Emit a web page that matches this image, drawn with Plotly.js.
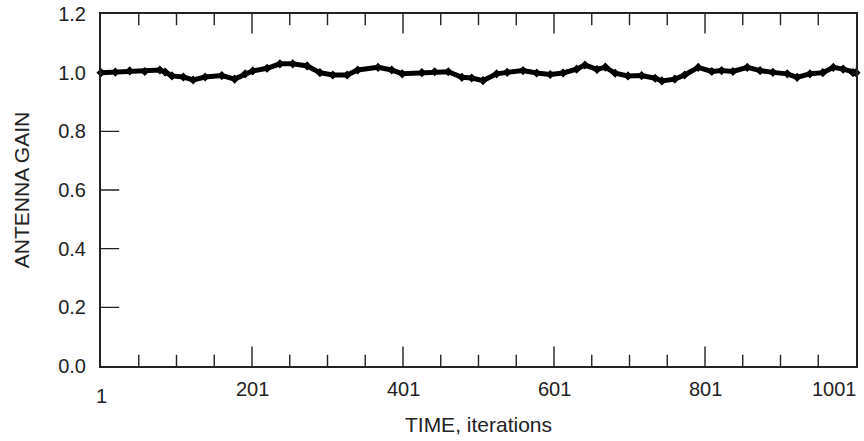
<!DOCTYPE html>
<html>
<head>
<meta charset="utf-8">
<script src="https://cdn.plot.ly/plotly-3.0.1.min.js"></script>
<style>
html,body{margin:0;padding:0;background:#fff;}
#chart{width:864px;height:441px;}
</style>
</head>
<body>
<div id="chart"></div>
<script>
// Data
const iterations = [1, 20, 39, 59, 79, 86, 95, 110, 123, 139, 161, 178, 192, 202, 221, 238, 255, 274, 291, 308, 327, 341, 368, 386, 400, 426, 443, 461, 479, 492, 507, 525, 539, 560, 578, 596, 613, 631, 642, 658, 669, 682, 699, 717, 735, 744, 761, 774, 792, 810, 823, 838, 857, 874, 891, 910, 923, 940, 957, 971, 984, 997, 1001];
const antennaGain = [1.000, 1.002, 1.006, 1.004, 1.009, 1.002, 0.989, 0.985, 0.975, 0.985, 0.990, 0.978, 0.996, 1.006, 1.015, 1.030, 1.030, 1.023, 1.000, 0.992, 0.992, 1.009, 1.018, 1.009, 0.996, 1.000, 1.003, 1.003, 0.984, 0.982, 0.973, 0.996, 1.001, 1.007, 0.999, 0.994, 0.999, 1.012, 1.026, 1.011, 1.019, 0.998, 0.989, 0.990, 0.981, 0.972, 0.978, 0.992, 1.018, 1.004, 1.007, 1.004, 1.018, 1.007, 1.001, 0.996, 0.984, 0.996, 1.000, 1.018, 1.012, 1.000, 1.000];
const xTickVals = [1, 201, 401, 601, 801, 1001];
const xTickText = ['1', '201', '401', '601', '801', '1001'];
const xMinorTickVals = [51, 101, 151, 251, 301, 351, 451, 501, 551, 651, 701, 751, 851, 901, 951];
const yTickVals = [0, 0.2, 0.4, 0.6, 0.8, 1.0, 1.2];

const FONT = 'Liberation Sans, Arial, Helvetica, sans-serif';
const INK = '#222';
const X0 = xTickVals[0], X1 = xTickVals[xTickVals.length - 1];
const Y0 = yTickVals[0], Y1 = yTickVals[yTickVals.length - 1];

// Inward tick marks: line symbols centred on the axis lines, the outer half clipped by the plot area
function tickTrace(xs, ys, symbol, size) {
  return {
    x: xs, y: ys, type: 'scatter', mode: 'markers', cliponaxis: true,
    marker: {symbol: symbol, size: size, color: INK, line: {color: INK, width: 1.4}},
    hoverinfo: 'skip', showlegend: false
  };
}
const xMajorInner = xTickVals.slice(1, -1);
const yInner = yTickVals.slice(1, -1);
const ticks = [
  tickTrace(xMinorTickVals, xMinorTickVals.map(() => Y0), 'line-ns', 16),
  tickTrace(xMinorTickVals, xMinorTickVals.map(() => Y1), 'line-ns', 16),
  tickTrace(xMajorInner, xMajorInner.map(() => Y0), 'line-ns', 28),
  tickTrace(xMajorInner, xMajorInner.map(() => Y1), 'line-ns', 28),
  tickTrace(yInner.map(() => X0), yInner, 'line-ew', 26)
];

const gainTrace = {
  x: iterations, y: antennaGain, type: 'scatter', mode: 'lines+markers',
  line: {color: '#000', width: 5},
  marker: {color: '#000', size: 7, symbol: 'diamond'},
  cliponaxis: false, hoverinfo: 'skip', showlegend: false
};

// X tick labels: "1" sits lower, "1001" is pulled in at the right end
const annotations = xTickVals.map((v, i) => {
  const first = i === 0, last = i === xTickVals.length - 1;
  return {
    x: v, xref: 'x', y: 0, yref: 'paper',
    text: xTickText[i], showarrow: false,
    xanchor: last ? 'right' : 'center', yanchor: 'middle',
    xshift: last ? 3 : 0,
    yshift: first ? -30 : -23,
    font: {family: FONT, size: 20, color: INK}
  };
});

const layout = {
  width: 864, height: 441,
  margin: {l: 101, r: 8, t: 14, b: 75},
  paper_bgcolor: '#fff', plot_bgcolor: '#fff',
  font: {family: FONT, size: 20, color: INK},
  xaxis: {
    range: [X0, X1], tickvals: xTickVals, showticklabels: false, ticks: '',
    showline: true, linecolor: INK, linewidth: 2, mirror: true,
    showgrid: false, zeroline: false,
    title: {text: 'TIME, iterations', font: {family: FONT, size: 21, color: INK}, standoff: 50}
  },
  yaxis: {
    range: [Y0, Y1], tickvals: yTickVals, tickformat: '.1f', ticks: '',
    ticklabelstandoff: 9,
    showline: true, linecolor: INK, linewidth: 2, mirror: true,
    showgrid: false, zeroline: false,
    tickfont: {family: FONT, size: 20, color: INK},
    title: {text: 'ANTENNA GAIN', font: {family: FONT, size: 21, color: INK}, standoff: 23}
  },
  annotations: annotations
};

Plotly.newPlot('chart', ticks.concat([gainTrace]), layout, {staticPlot: true, displayModeBar: false});
</script>
</body>
</html>
